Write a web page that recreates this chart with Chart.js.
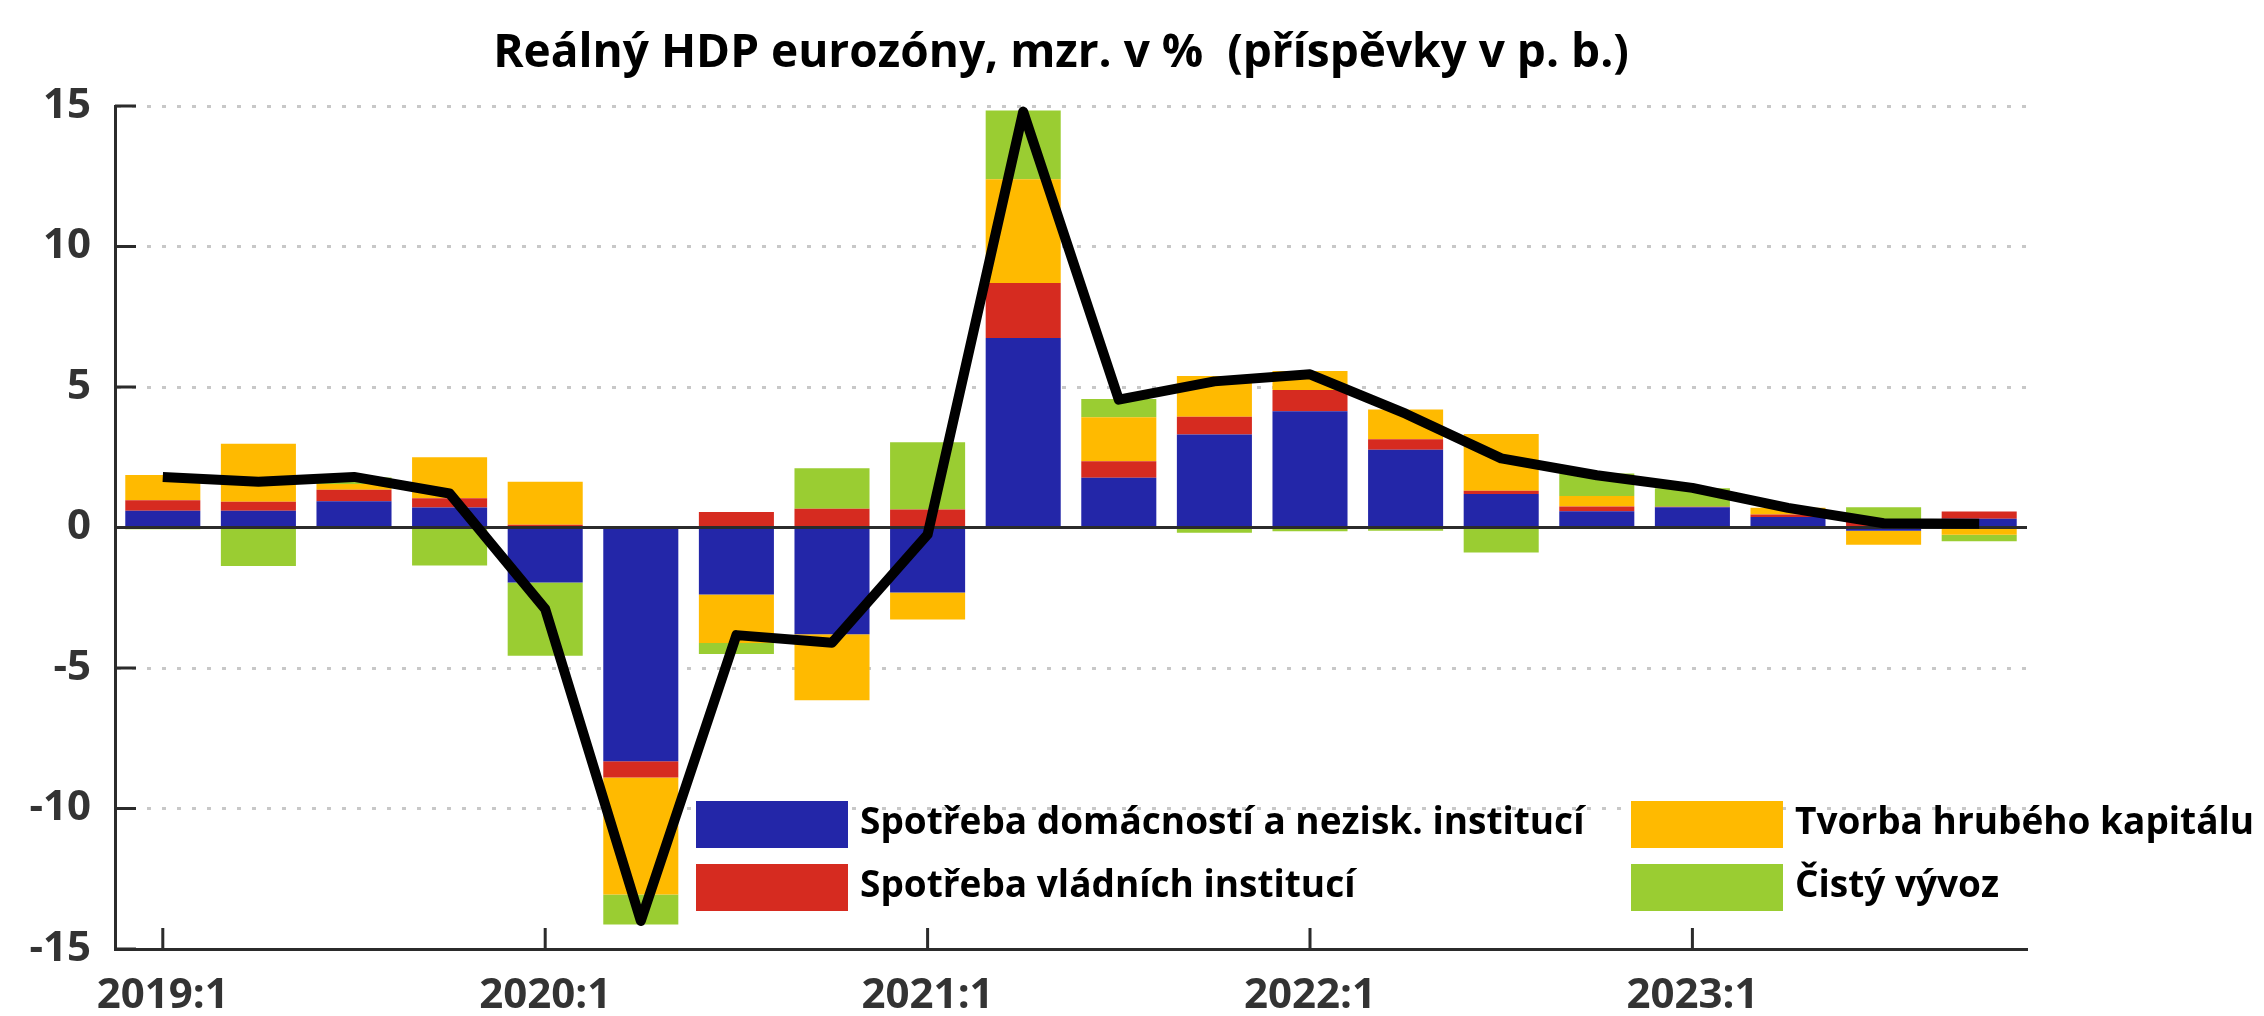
<!DOCTYPE html>
<html>
<head>
<meta charset="utf-8">
<script src="https://cdn.jsdelivr.net/npm/chart.js@4.4.1/dist/chart.umd.min.js"></script>
<style>
  html, body { margin: 0; padding: 0; background: #fff; }
  #wrap { width: 2264px; height: 1016px; }
</style>
</head>
<body>
<div id="wrap"><canvas id="chart"></canvas></div>
<script>
const quarters = [
  '2019:1', '2019:2', '2019:3', '2019:4',
  '2020:1', '2020:2', '2020:3', '2020:4',
  '2021:1', '2021:2', '2021:3', '2021:4',
  '2022:1', '2022:2', '2022:3', '2022:4',
  '2023:1', '2023:2', '2023:3', '2023:4',
];
const households = [0.6, 0.6, 0.93, 0.71, -1.96, -8.32, -2.38, -3.8, -2.31, 6.74, 1.77, 3.31, 4.14, 2.77, 1.19, 0.58, 0.72, 0.37, -0.12, 0.31];
const government = [0.37, 0.32, 0.41, 0.33, 0.1, -0.58, 0.55, 0.67, 0.64, 1.96, 0.59, 0.63, 0.75, 0.37, 0.12, 0.17, 0.02, 0.09, 0.2, 0.26];
const capital = [0.9, 2.06, 0.21, 1.46, 1.53, -4.16, -1.73, -2.35, -0.96, 3.69, 1.56, 1.45, 0.68, 1.06, 2.02, 0.37, 0, 0.24, -0.49, -0.26];
const netExports = [-0.06, -1.37, 0.23, -1.35, -2.6, -1.07, -0.39, 1.44, 2.39, 2.45, 0.65, -0.19, -0.13, -0.12, -0.89, 0.8, 0.66, -0.05, 0.52, -0.23];
const gdp = [1.8, 1.63, 1.8, 1.21, -2.9, -14.0, -3.83, -4.1, -0.25, 14.8, 4.55, 5.2, 5.45, 4.05, 2.46, 1.86, 1.41, 0.7, 0.15, 0.13];

const seriesNames = [
  'Spotřeba domácností a nezisk. institucí',
  'Spotřeba vládních institucí',
  'Tvorba hrubého kapitálu',
  'Čistý vývoz',
];
const seriesColors = ['#2326a8', '#d62b20', '#ffba00', '#9acd32'];
const yTicks = [-15, -10, -5, 0, 5, 10, 15];
const chartTitle = 'Reálný HDP eurozóny, mzr. v %  (příspěvky v p. b.)';

const fontFamily = "'Open Sans', 'DejaVu Sans', sans-serif";
const axisColor = '#2b2b2b';

// fit a bold text into a given width, never above maxSize
function fitSize(ctx, text, maxSize, maxWidth) {
  ctx.font = `bold ${maxSize}px ${fontFamily}`;
  const w = ctx.measureText(text).width;
  return w > maxWidth ? Math.floor(maxSize * maxWidth / w) : maxSize;
}

const decorations = {
  id: 'decorations',
  beforeDatasetDraw(chart, args) {
    if (args.index !== 0) return;
    const { ctx, chartArea, scales: { y } } = chart;
    const y0 = y.getPixelForValue(0);
    ctx.save();
    ctx.strokeStyle = axisColor;
    ctx.lineWidth = 3;
    ctx.beginPath();
    ctx.moveTo(chartArea.left, y0);
    ctx.lineTo(chartArea.right, y0);
    ctx.stroke();
    ctx.restore();
  },
  afterDraw(chart) {
    const { ctx, chartArea, scales: { x, y } } = chart;
    ctx.save();

    // inward tick marks
    ctx.strokeStyle = axisColor;
    ctx.lineWidth = 3;
    ctx.beginPath();
    yTicks.forEach((v) => {
      const py = y.getPixelForValue(v);
      ctx.moveTo(chartArea.left, py);
      ctx.lineTo(chartArea.left + 21, py);
    });
    quarters.forEach((q, i) => {
      if (!q.endsWith(':1')) return;
      const px = x.getPixelForValue(i);
      ctx.moveTo(px, chartArea.bottom);
      ctx.lineTo(px, chartArea.bottom - 21);
    });
    ctx.stroke();

    // title
    const titleSize = fitSize(ctx, chartTitle, 46, 1140);
    ctx.font = `bold ${titleSize}px ${fontFamily}`;
    ctx.fillStyle = '#000';
    ctx.textAlign = 'center';
    ctx.textBaseline = 'alphabetic';
    ctx.fillText(chartTitle, (chartArea.left + chartArea.right) / 2 - 10, 67);

    // legend, 2 x 2 inside the plot
    const legendSize = Math.min(
      fitSize(ctx, seriesNames[0], 37, 733),
      fitSize(ctx, seriesNames[2], 37, 464)
    );
    ctx.font = `bold ${legendSize}px ${fontFamily}`;
    ctx.textAlign = 'left';
    const cols = [696, 1631];
    const rows = [801, 864];
    seriesNames.forEach((name, i) => {
      const bx = cols[Math.floor(i / 2)];
      const by = rows[i % 2];
      ctx.fillStyle = seriesColors[i];
      ctx.fillRect(bx, by, 152, 47);
      ctx.fillStyle = '#000';
      ctx.fillText(name, bx + 164, by + 33);
    });

    ctx.restore();
  },
};

const barSets = [households, government, capital, netExports].map((values, i) => ({
  label: seriesNames[i],
  data: values,
  backgroundColor: seriesColors[i],
  borderWidth: 0,
  order: 1,
}));

new Chart(document.getElementById('chart'), {
  type: 'bar',
  data: {
    labels: quarters,
    datasets: [
      {
        type: 'line',
        label: 'HDP',
        data: gdp,
        stack: 'gdp',
        borderColor: '#000',
        borderWidth: 10,
        borderJoinStyle: 'round',
        pointRadius: 0,
        tension: 0,
        order: 0,
      },
      ...barSets,
    ],
  },
  options: {
    responsive: true,
    maintainAspectRatio: false,
    animation: false,
    events: [],
    layout: { padding: { top: 106, right: 237, bottom: 0, left: 0 } },
    datasets: {
      bar: { barPercentage: 0.785, categoryPercentage: 1 },
    },
    plugins: {
      legend: { display: false },
      title: { display: false },
      tooltip: { enabled: false },
    },
    scales: {
      x: {
        stacked: true,
        grid: { display: false, drawTicks: false },
        border: { display: true, color: axisColor, width: 3 },
        ticks: {
          autoSkip: false,
          maxRotation: 0,
          padding: 22,
          color: '#333',
          font: { family: fontFamily, size: 42, weight: 'bold' },
          callback: (value, index) => (quarters[index].endsWith(':1') ? quarters[index] : ''),
        },
        afterFit: (scale) => {
          scale.height = 67;
        },
      },
      y: {
        stacked: true,
        min: -15,
        max: 15,
        ticks: {
          stepSize: 5,
          padding: 24,
          color: '#333',
          font: { family: fontFamily, size: 42, weight: 'bold' },
        },
        grid: {
          drawTicks: false,
          lineWidth: 3,
          color: (c) => (c.tick && c.tick.value === -15 ? axisColor : '#c8c8c8'),
        },
        border: {
          color: axisColor,
          width: 3,
          dash: (c) => (c.tick && c.tick.value !== -15 ? [4, 11] : []),
        },
        afterFit: (scale) => {
          scale.width = 115;
        },
      },
    },
  },
  plugins: [decorations],
});
</script>
</body>
</html>
